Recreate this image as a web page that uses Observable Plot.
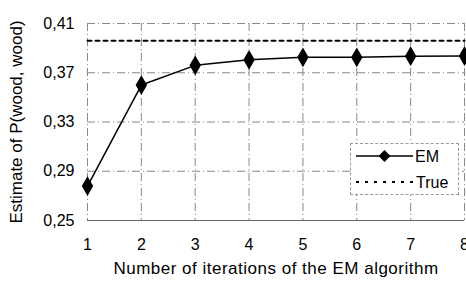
<!DOCTYPE html>
<html><head><meta charset="utf-8">
<script src="https://cdn.jsdelivr.net/npm/d3@7"></script>
<script src="https://cdn.jsdelivr.net/npm/@observablehq/plot@0.6"></script>
<style>
body{margin:0;background:#fff;font-family:"Liberation Sans",Arial,sans-serif;}
#wrap{position:relative;width:466px;height:284px;}
#legend{position:absolute;left:350px;top:143px;width:109px;height:52px;border:1px dashed #999;background:#fff;box-sizing:border-box;}
</style></head>
<body><div id="wrap"><div id="chart"></div>
<div id="legend"><svg width="109" height="52">
<line x1="5" y1="12" x2="62" y2="12" stroke="#000" stroke-width="1.5"/>
<path d="M33.5,6 L39.5,12 L33.5,18 L27.5,12Z" fill="#000"/>
<text x="64" y="18" font-size="16" font-family="Liberation Sans, Arial, sans-serif">EM</text>
<line x1="5" y1="38" x2="62" y2="38" stroke="#000" stroke-width="2" stroke-dasharray="3,6"/>
<text x="65" y="44" font-size="16" font-family="Liberation Sans, Arial, sans-serif">True</text>
</svg></div></div>
<script>
const iterations = [1,2,3,4,5,6,7,8];
const emEstimate = [0.278,0.360,0.376,0.3805,0.3825,0.3825,0.3835,0.3836];
const trueValue = 0.396;
const yTicks = [0.25,0.29,0.33,0.37,0.41];
const xTicks = [1,2,3,4,5,6,7,8];

const em = iterations.map((x,i)=>({x, y: emEstimate[i]}));
const truth = iterations.map(x=>({x, y: trueValue}));
const grid = {stroke:"#888", strokeOpacity:1, strokeWidth:1, strokeDasharray:"8,3,1,3"};

const chart = Plot.plot({
  width:466, height:284,
  marginLeft:87, marginRight:2, marginTop:23, marginBottom:64,
  style:{fontFamily:"Liberation Sans, Arial, sans-serif", fontSize:"16px", color:"#000", background:"#fff"},
  x:{domain:[1,8]},
  y:{domain:[0.25,0.41]},
  marks:[
    Plot.gridX(xTicks, grid),
    Plot.gridY(yTicks, grid),
    Plot.axisY(yTicks, {tickSize:0, tickPadding:13, tickFormat:d=>d.toFixed(2).replace(".",","), fontSize:16,
      label:"Estimate of P(wood, wood)", labelAnchor:"center", labelArrow:"none", labelOffset:78}),
    Plot.axisX(xTicks, {tickSize:0, tickPadding:18, fontSize:16,
      label:"Number of iterations of the EM algorithm", labelAnchor:"center", labelArrow:"none", labelOffset:53}),
    Plot.ruleY([0.25], {stroke:"#666", strokeWidth:1}),
    Plot.line(truth, {x:"x", y:"y", stroke:"#000", strokeWidth:2, strokeDasharray:"4,4"}),
    Plot.line(em, {x:"x", y:"y", stroke:"#000", strokeWidth:1.5}),
    Plot.dot(em, {x:"x", y:"y", symbol:"diamond", fill:"#000", r:6})
  ]
});
chart.querySelectorAll("[aria-label='x-axis label'] text").forEach(t=>{t.setAttribute("font-size","17");t.setAttribute("letter-spacing","0.5");});
chart.querySelectorAll("[aria-label='y-axis label'] text").forEach(t=>t.setAttribute("font-size","17"));
document.getElementById("chart").appendChild(chart);
</script></body></html>
